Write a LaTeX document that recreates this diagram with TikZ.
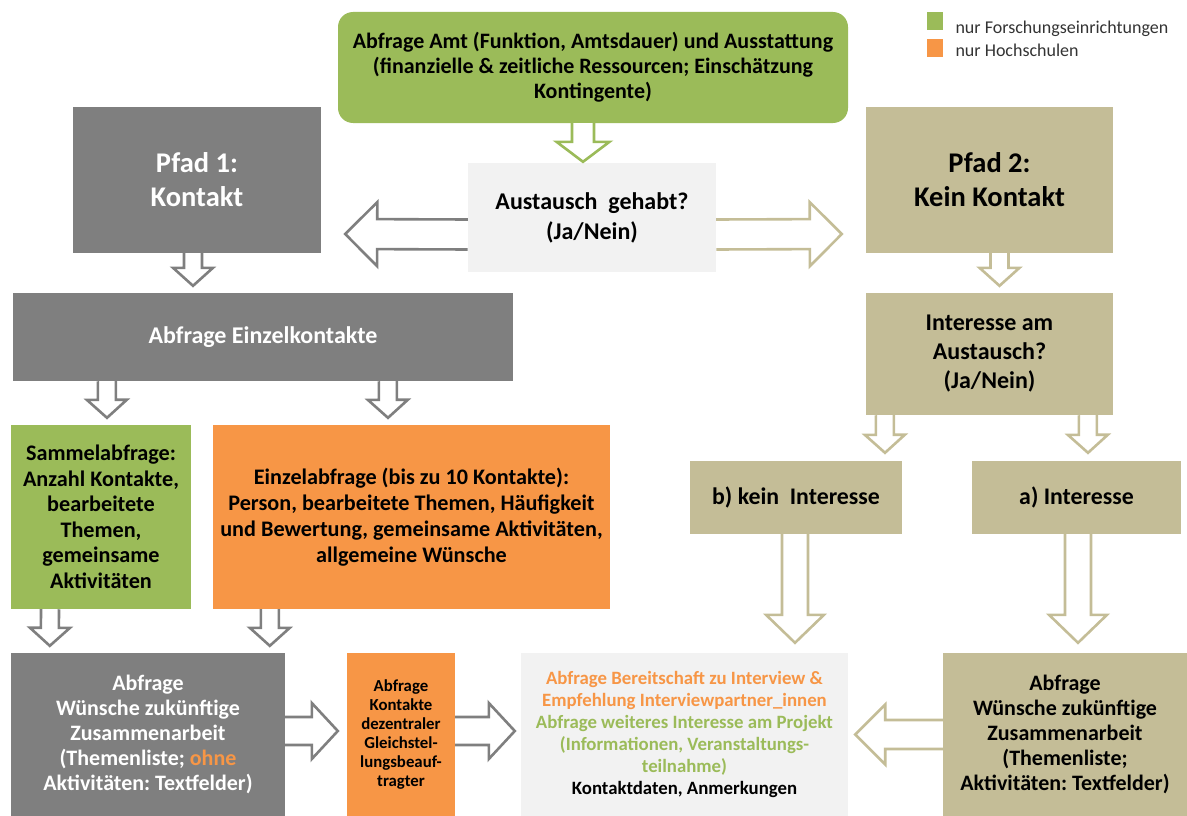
\documentclass[tikz,border=0pt]{standalone}
\usepackage{fontspec}
\setmainfont{Carlito}
\usepackage{tikz}
\usetikzlibrary{calc}
\usepackage{xcolor}
\frenchspacing

\definecolor{gruen}{HTML}{9BBB59}
\definecolor{hsorange}{HTML}{F79646}
\definecolor{grau}{HTML}{7F7F7F}
\definecolor{sand}{HTML}{C4BD97}
\definecolor{hellgrau}{HTML}{F2F2F2}

% Blockpfeil: Farbe, von, nach, halbe Schaftbreite, halbe Kopfbreite, Kopflaenge
\newcommand{\blockpfeil}[6]{%
	\coordinate (bp-a) at (#2);
	\coordinate (bp-b) at (#3);
	\coordinate (bp-q) at ($(bp-b)!#6!(bp-a)$);
	\filldraw[pfeil, draw=#1] ($(bp-a)!#4!90:(bp-b)$) -- ($(bp-q)!#4!90:(bp-b)$) -- ($(bp-q)!#5!90:(bp-b)$) -- (bp-b)
		-- ($(bp-q)!#5!-90:(bp-b)$) -- ($(bp-q)!#4!-90:(bp-b)$) -- ($(bp-a)!#4!-90:(bp-b)$);
}

\begin{document}
\begin{tikzpicture}[x=1pt,y=-1pt,
		kasten/.style={rectangle, inner sep=0pt, align=center, font=\fontsize{22}{25}\selectfont\bfseries},
		grosstext/.style={font=\fontsize{28.5}{34}\selectfont\bfseries},
		pfeil/.style={fill=white, line width=2.6pt, line join=miter}]
	\useasboundingbox (0,0) rectangle (1187,816);
	
	% Legende
	\fill[gruen] (927,12) rectangle (943,30);
	\fill[hsorange] (927,39) rectangle (943,57);
	\node[anchor=west, font=\fontsize{18}{20}\selectfont, text=black!80] (leg1) at (952,29) {nur Forschungseinrichtungen};
	\node[anchor=west, font=\fontsize{18}{20}\selectfont, text=black!80] (leg2) at (952,50) {nur Hochschulen};
	
	% Kaesten
	\node[kasten, fill=gruen, rounded corners=15pt, minimum width=510, minimum height=111] (amt) at (593,67.5)
		{Abfrage Amt (Funktion, Amtsdauer) und Ausstattung\\(finanzielle \& zeitliche Ressourcen; Einschätzung\\Kontingente)};
	\node[kasten, fill=hellgrau, minimum width=248, minimum height=109, font=\fontsize{24}{30}\selectfont\bfseries] (aust) at (592,217.5)
		{Austausch~~gehabt?\\(Ja/Nein)};
	\node[kasten, grosstext, fill=grau, text=white, minimum width=248, minimum height=146] (pfad1) at (197,180)
		{Pfad 1:\\Kontakt};
	\node[kasten, grosstext, fill=sand, minimum width=247, minimum height=146] (pfad2) at (989.5,180)
		{Pfad 2:\\Kein Kontakt};
	\node[kasten, fill=grau, text=white, minimum width=500, minimum height=88, font=\fontsize{24}{25}\selectfont\bfseries] (einzel) at (263,337)
		{Abfrage Einzelkontakte};
	\node[kasten, fill=sand, minimum width=247, minimum height=122, font=\fontsize{24}{29}\selectfont\bfseries] (interesse) at (989.5,354)
		{Interesse am\\Austausch?\\(Ja/Nein)};
	\node[kasten, fill=gruen, minimum width=180, minimum height=184, font=\fontsize{22.2}{25.5}\selectfont\bfseries] (sammel) at (101,517)
		{Sammelabfrage:\\Anzahl Kontakte,\\bearbeitete\\Themen,\\gemeinsame\\Aktivitäten};
	\node[kasten, fill=hsorange, minimum width=397, minimum height=184, font=\fontsize{22.2}{26}\selectfont\bfseries] (einzelabfr) at (411.5,517)
		{Einzelabfrage (bis zu 10 Kontakte):\\Person, bearbeitete Themen, Häufigkeit\\und Bewertung, gemeinsame Aktivitäten,\\allgemeine Wünsche};
	\node[kasten, fill=sand, minimum width=212, minimum height=73, font=\fontsize{23.8}{25}\selectfont\bfseries] (kein) at (796,497.5)
		{b) kein~~Interesse};
	\node[kasten, fill=sand, minimum width=209, minimum height=73, font=\fontsize{23.8}{25}\selectfont\bfseries] (ja) at (1076.5,497.5)
		{a)~Interesse};
	\node[kasten, fill=grau, text=white, minimum width=274, minimum height=163] (wuensche) at (148,734.5)
		{Abfrage\\Wünsche zukünftige\\Zusammenarbeit\\(Themenliste; \textcolor{hsorange}{ohne}\\Aktivitäten: Textfelder)};
	\node[kasten, fill=hsorange, minimum width=108, minimum height=163, font=\fontsize{16.8}{19}\selectfont\bfseries] (klein) at (401,734.5)
		{Abfrage\\Kontakte\\dezentraler\\Gleichstel-\\lungsbeauf-\\tragter};
	\node[kasten, fill=hellgrau, minimum width=327, minimum height=163, font=\fontsize{18.8}{22}\selectfont\bfseries] (final) at (684.5,734.5)
		{\textcolor{hsorange}{Abfrage Bereitschaft zu Interview \&}\\
		 \textcolor{hsorange}{Empfehlung Interviewpartner\_innen}\\
		 \textcolor{gruen}{Abfrage weiteres Interesse am Projekt}\\
		 \textcolor{gruen}{(Informationen, Veranstaltungs-}\\
		 \textcolor{gruen}{teilnahme)}\\
		 Kontaktdaten, Anmerkungen};
	\node[kasten, fill=sand, minimum width=244, minimum height=163] (rechts) at (1065,734.5)
		{Abfrage\\Wünsche zukünftige\\Zusammenarbeit\\(Themenliste;\\Aktivitäten: Textfelder)};
	
	% Pfeile
	\blockpfeil{gruen}{$(amt.south)+(-10,0)$}{$(aust.north)+(-9,-1)$}{11pt}{26.5pt}{20pt}
	\blockpfeil{grau}{$(aust.west)+(0,17)$}{$(pfad1.east)+(24,54)$}{15pt}{32pt}{32pt}
	\blockpfeil{sand}{$(aust.east)+(0,17)$}{$(pfad2.west)+(-24,54)$}{15pt}{32pt}{32pt}
	\blockpfeil{grau}{$(pfad1.south)+(-4,0)$}{$(einzel.north)+(-70,-7)$}{9pt}{20pt}{18pt}
	\blockpfeil{sand}{$(pfad2.south)+(10,0)$}{$(interesse.north)+(10,-7)$}{9pt}{20pt}{18pt}
	\blockpfeil{grau}{$(einzel.south west)+(94,0)$}{$(sammel.north)+(6,-7)$}{9pt}{20pt}{18pt}
	\blockpfeil{grau}{$(einzel.south west)+(375,0)$}{$(einzelabfr.north)+(-23.5,-7)$}{9pt}{20pt}{18pt}
	\blockpfeil{sand}{$(interesse.south west)+(19,0)$}{$(kein.north)+(89,-8)$}{9pt}{20pt}{18pt}
	\blockpfeil{sand}{$(interesse.south west)+(222,0)$}{$(ja.north)+(11.5,-8)$}{9pt}{20pt}{18pt}
	\blockpfeil{grau}{$(sammel.south)+(-51,0)$}{$(wuensche.north west)+(39,-7)$}{9pt}{20pt}{18pt}
	\blockpfeil{grau}{$(einzelabfr.south west)+(57,0)$}{$(wuensche.north west)+(259,-7)$}{9pt}{20pt}{18pt}
	\blockpfeil{sand}{$(kein.south)+(-1,0)$}{$(final.north)+(110.5,-10)$}{13pt}{29pt}{28pt}
	\blockpfeil{sand}{$(ja.south)+(1.5,0)$}{$(rechts.north)+(13,-10)$}{13pt}{29pt}{28pt}
	\blockpfeil{grau}{$(wuensche.east)+(0,-3.5)$}{$(klein.west)+(-9,-3.5)$}{14pt}{28pt}{26pt}
	\blockpfeil{grau}{$(klein.east)+(0,-3.5)$}{$(final.west)+(-6,-3.5)$}{14pt}{28pt}{26pt}
	\blockpfeil{sand}{$(rechts.west)$}{$(final.east)+(7,0)$}{14.5pt}{30pt}{30pt}
\end{tikzpicture}
\end{document}
